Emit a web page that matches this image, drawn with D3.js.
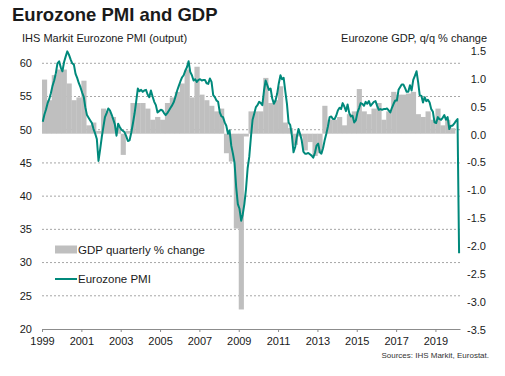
<!DOCTYPE html>
<html>
<head>
<meta charset="utf-8">
<script src="https://cdn.jsdelivr.net/npm/d3@7"></script>
<style>
  body { margin: 0; background: #fff; }
  text { font-family: "Liberation Sans", Arial, sans-serif; fill: #1a1a1a; }
</style>
</head>
<body>
<div id="chart"></div>
<script>
// monthly composite output PMI, Jan 1999 .. Mar 2020 (flash)
const pmiValues = [
  51.2, 52.3, 53.0, 54.0, 54.6, 55.5, 56.6, 57.4, 58.5, 60.0, 60.3, 59.4,
  58.8, 60.2, 61.0, 61.8, 61.3, 60.6, 60.0, 59.8, 58.4, 57.8, 57.0, 56.4,
  55.6, 54.9, 53.4, 52.2, 51.8, 51.4, 51.0, 50.1, 49.4, 48.6, 45.3, 47.0,
  48.9, 50.5, 51.9, 52.5, 53.2, 52.9, 52.3, 51.6, 50.8, 49.1, 50.9, 50.4,
  50.0, 49.8, 49.6, 49.0, 48.3, 48.4, 49.5, 50.9, 52.4, 54.2, 56.2, 55.8,
  56.0, 55.7, 55.9, 56.0, 55.3, 54.9, 55.9, 55.0, 54.2, 53.7, 52.6, 52.8,
  53.0, 52.9, 52.5, 52.2, 52.5, 52.9, 53.3, 53.7, 54.2, 55.0, 55.9, 56.6,
  57.3, 57.9, 58.2, 58.9, 59.4, 60.3, 58.7, 58.2, 57.4, 57.6, 57.2, 57.5,
  57.6, 57.4, 57.5, 57.5, 57.0, 56.9, 57.7, 57.2, 55.2, 54.9, 54.4, 54.2,
  52.6, 52.0, 51.9, 51.1, 50.6, 49.4, 49.9, 47.6, 46.4, 45.0, 41.3, 38.8,
  38.1, 36.3, 37.2, 38.8, 41.0, 44.2, 45.9, 48.9, 51.5, 52.4, 53.4, 53.7,
  54.2, 54.0, 53.7, 55.9, 57.4, 56.7, 56.0, 56.2, 54.7, 53.9, 54.4, 55.4,
  57.0, 58.2, 57.6, 57.8, 55.8, 53.9, 51.1, 50.7, 49.1, 46.6, 47.4, 48.9,
  50.1, 49.3, 48.4, 46.7, 46.4, 46.4, 46.5, 46.3, 46.1, 45.8, 46.5, 47.6,
  47.9, 46.6, 46.4, 47.2, 48.4, 49.4, 50.5, 51.9, 52.0, 51.6, 51.6, 52.1,
  52.9, 53.3, 53.1, 54.0, 53.5, 52.8, 53.8, 52.5, 52.0, 52.1, 51.1, 51.4,
  52.6, 53.3, 54.0, 53.9, 53.6, 54.2, 53.9, 54.3, 53.6, 53.9, 54.2, 54.3,
  53.6, 53.0, 53.1, 53.0, 53.1, 53.1, 53.2, 52.9, 52.6, 53.3, 53.9, 54.4,
  54.4, 56.0, 56.4, 56.8, 56.8, 56.3, 55.7, 55.7, 56.7, 55.9, 57.5, 58.1,
  58.8, 57.1, 55.2, 55.1, 54.1, 54.9, 54.3, 54.5, 54.1, 53.1, 52.7, 51.1,
  51.0, 51.9, 51.6, 51.5, 51.8, 52.2, 51.5, 51.9, 50.1, 50.6, 50.6, 50.9,
  51.3, 51.6, 31.4
];

// quarterly GDP q/q % change, 1999 Q1 .. 2019 Q4
const gdpValues = [
  0.97, 0.6, 1.05, 1.15,
  1.15, 0.9, 0.6, 0.65,
  0.95, 0.15, 0.2, 0.05,
  0.45, 0.4, 0.3, 0.1,
  -0.38, 0.05, 0.55, 0.55,
  0.55, 0.45, 0.25, 0.3,
  0.25, 0.55, 0.65, 0.75,
  0.9, 1.15, 0.65, 1.2,
  0.7, 0.6, 0.5, 0.4,
  0.45, -0.35, -0.5, -1.7,
  -3.15, -0.05, 0.4, 0.4,
  0.4, 1.0, 0.55, 0.6,
  0.85, 0.2, 0.1, -0.2,
  -0.05, -0.3, -0.15, -0.4,
  -0.35, 0.5, 0.25, 0.25,
  0.3, 0.15, 0.35, 0.4,
  0.8, 0.4, 0.35, 0.45,
  0.55, 0.25, 0.4, 0.75,
  0.7, 0.7, 0.72, 0.75,
  0.35, 0.3, 0.4, 0.25,
  0.45, 0.15, 0.25, 0.1
];

const yearTicks = [1999, 2001, 2003, 2005, 2007, 2009, 2011, 2013, 2015, 2017, 2019];
const leftTicks = [20, 25, 30, 35, 40, 45, 50, 55, 60];
const rightTicks = [-3.5, -3.0, -2.5, -2.0, -1.5, -1.0, -0.5, 0.0, 0.5, 1.0, 1.5];

const width = 505, height = 376;
const plotL = 42, plotR = 460, plotT = 50, plotB = 329;
const teal = "#00897b", barGrey = "#bfbfbf";

const svg = d3.select("#chart").append("svg")
  .attr("width", width)
  .attr("height", height)
  .style("font-size", "11px");

const x = d3.scaleTime()
  .domain([new Date(1999, 0, 1), new Date(2020, 3, 1)])
  .range([plotL, plotR]);
const yL = d3.scaleLinear().domain([20, 62]).range([plotB, plotT]);
const yR = d3.scaleLinear().domain([-3.5, 1.5]).range([plotB, plotT]);

// titles
svg.append("text").attr("x", 12).attr("y", 21)
  .style("font-size", "18.5px").style("font-weight", "bold")
  .text("Eurozone PMI and GDP");
svg.append("text").attr("x", 22).attr("y", 42).text("IHS Markit Eurozone PMI (output)");
svg.append("text").attr("x", 487).attr("y", 42).attr("text-anchor", "end")
  .text("Eurozone GDP, q/q % change");

// dotted gridlines on the left scale
svg.append("g").selectAll("line")
  .data(leftTicks.filter(d => d > 20))
  .join("line")
  .attr("x1", plotL).attr("x2", plotR)
  .attr("y1", d => yL(d)).attr("y2", d => yL(d))
  .attr("stroke", "#a6a6a6")
  .attr("stroke-dasharray", "2,2");

// GDP bars, one per quarter, no gaps
svg.append("g").selectAll("rect")
  .data(gdpValues)
  .join("rect")
  .attr("x", (d, i) => x(new Date(1999, i * 3, 1)))
  .attr("width", (d, i) => x(new Date(1999, i * 3 + 3, 1)) - x(new Date(1999, i * 3, 1)) + 0.3)
  .attr("y", d => yR(Math.max(0, d)))
  .attr("height", d => Math.abs(yR(d) - yR(0)))
  .attr("fill", barGrey);

// PMI line
const line = d3.line()
  .x((d, i) => x(new Date(1999, i, 15)))
  .y(d => yL(d));
svg.append("path")
  .datum(pmiValues)
  .attr("d", line)
  .attr("fill", "none")
  .attr("stroke", teal)
  .attr("stroke-width", 2)
  .attr("stroke-linejoin", "round");

// x axis
const xAxis = svg.append("g")
  .attr("transform", `translate(0,${plotB})`)
  .call(d3.axisBottom(x)
    .tickValues(yearTicks.map(y => new Date(y, 0, 1)))
    .tickFormat(d3.timeFormat("%Y"))
    .tickSize(3)
    .tickSizeOuter(0));
xAxis.select(".domain").attr("stroke", "#8c8c8c");
xAxis.selectAll(".tick line").attr("stroke", "#8c8c8c");
xAxis.selectAll(".tick text").attr("y", 8).attr("dy", "0.71em")
  .style("font-size", "11px").style("font-family", "Liberation Sans, Arial, sans-serif");

// left axis labels
svg.append("g").selectAll("text")
  .data(leftTicks)
  .join("text")
  .attr("x", 32).attr("y", d => yL(d)).attr("dy", "0.35em")
  .attr("text-anchor", "end")
  .text(d => d);

// right axis labels
svg.append("g").selectAll("text")
  .data(rightTicks)
  .join("text")
  .attr("x", 486).attr("y", d => yR(d) + 1).attr("dy", "0.35em")
  .attr("text-anchor", "end")
  .text(d => d3.format(".1f")(d).replace("−", "-"));

// legend
const lg = svg.append("g");
lg.append("rect").attr("x", 55).attr("y", 245.5).attr("width", 22).attr("height", 8).attr("fill", barGrey);
lg.append("text").attr("x", 78).attr("y", 253.5).style("font-size", "11.5px").text("GDP quarterly % change");
lg.append("line").attr("x1", 55).attr("x2", 77).attr("y1", 279).attr("y2", 279)
  .attr("stroke", teal).attr("stroke-width", 2);
lg.append("text").attr("x", 78).attr("y", 283).style("font-size", "11.5px").text("Eurozone PMI");

// source note
svg.append("text").attr("x", 489).attr("y", 358).attr("text-anchor", "end")
  .style("font-size", "8px").style("fill", "#333")
  .text("Sources: IHS Markit, Eurostat.");
</script>
</body>
</html>
